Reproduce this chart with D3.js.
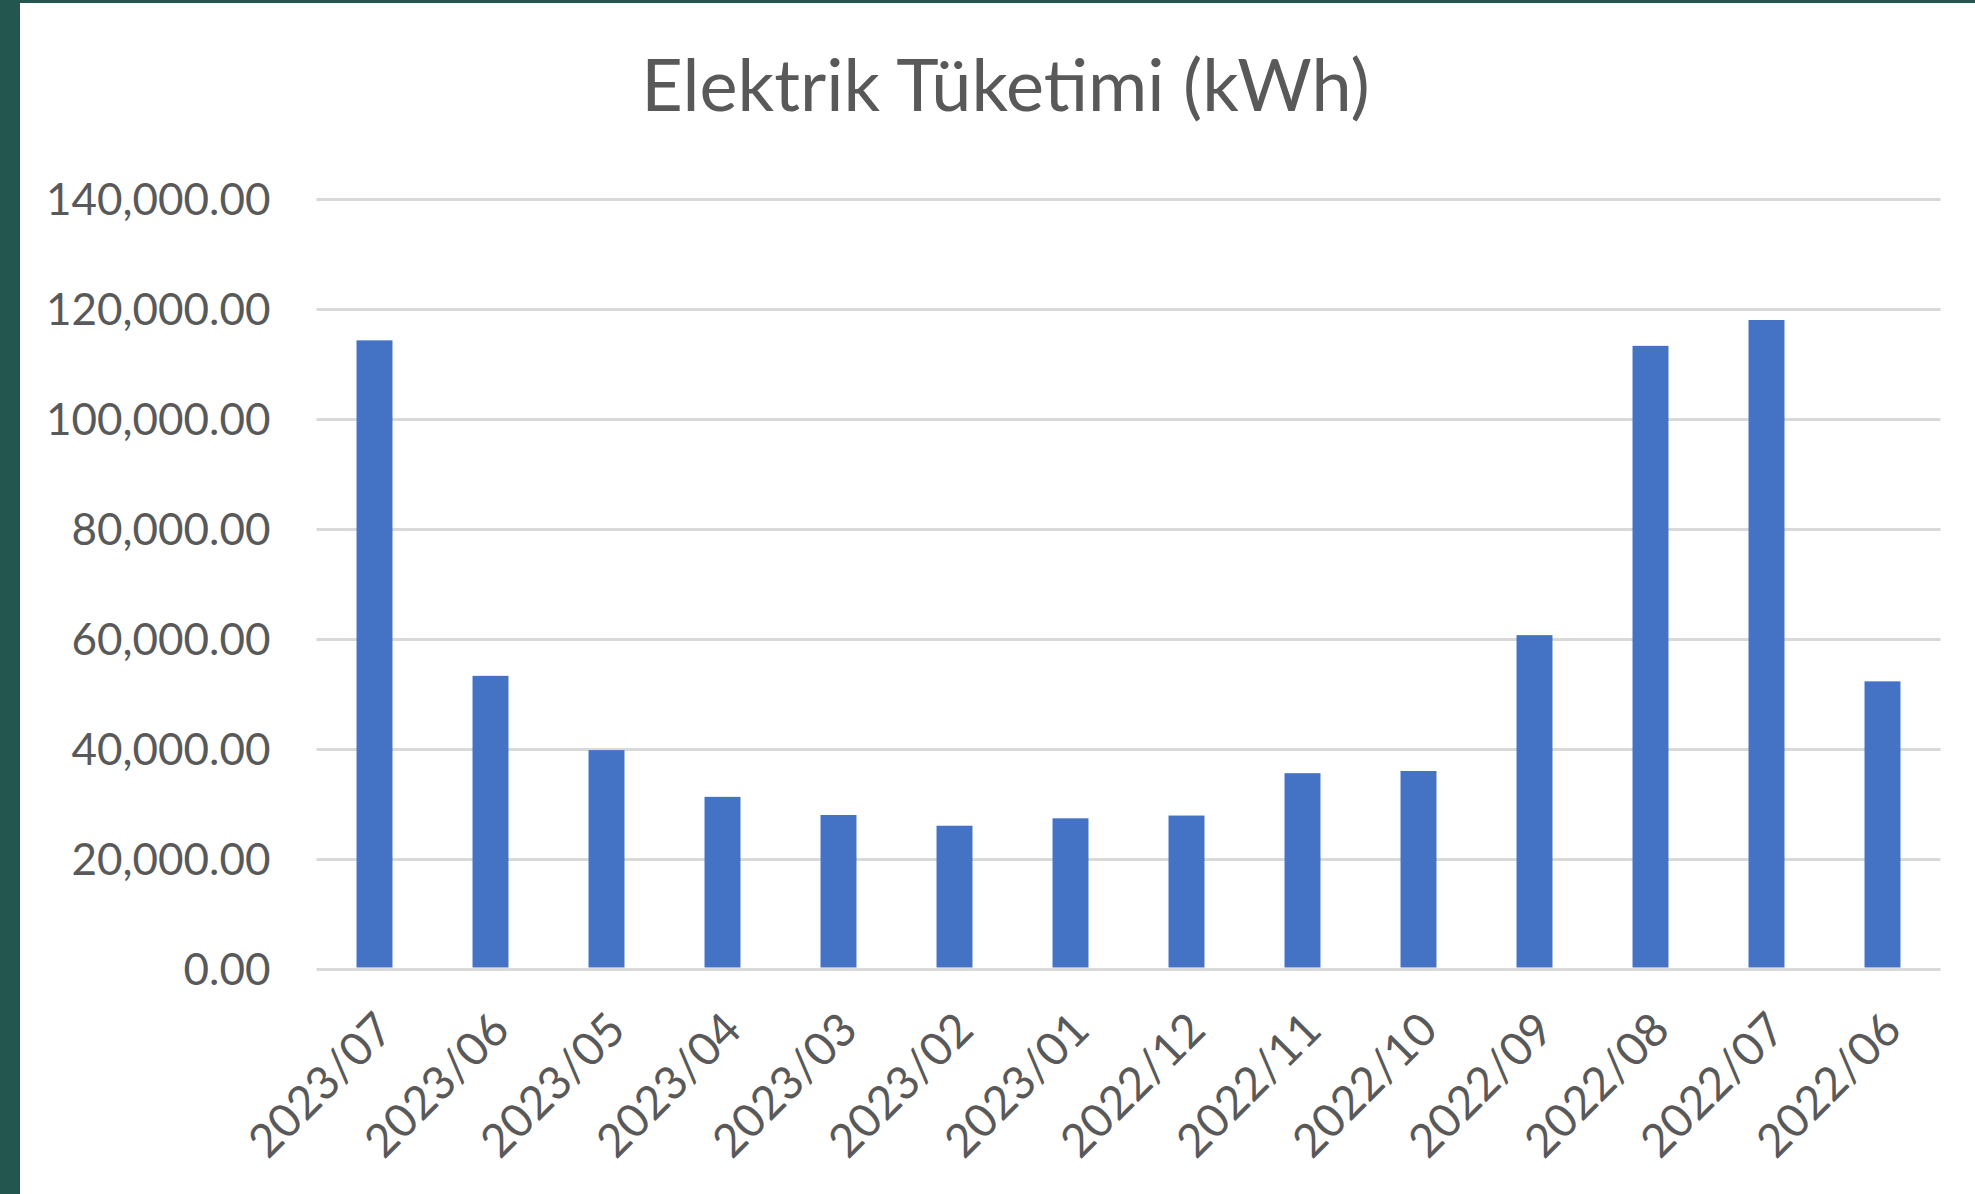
<!DOCTYPE html>
<html>
<head>
<meta charset="utf-8">
<script src="https://cdn.jsdelivr.net/npm/d3@7"></script>
<style>
    html, body { margin: 0; padding: 0; background: #ffffff; }
    svg { display: block; }
</style>
</head>
<body>
<div id="chart"></div>
<script>
// monthly readings, newest first (as in the sheet)
const months = ['2023/07', '2023/06', '2023/05', '2023/04', '2023/03', '2023/02', '2023/01',
                '2022/12', '2022/11', '2022/10', '2022/09', '2022/08', '2022/07', '2022/06']
const consumption = [114300, 53300, 39800, 31300, 28000, 26050, 27400,
                     27900, 35600, 36000, 60700, 113300, 118000, 52300]
const yTicks = [0, 20000, 40000, 60000, 80000, 100000, 120000, 140000]
const chartTitle = 'Elektrik Tüketimi (kWh)'

function drawConsumptionChart(d3, id) {
    var width = 1975
    var height = 1194
    var margin = {top: 199, right: 34.5, bottom: 225, left: 316.5}

    var scheme = {
        frame: '#23564f',
        bar: '#4472c4',
        grid: '#d9d9d9',
        text: '#595959'
    }

    var container = document.getElementById(id)

    var svg = d3.select(container)
        .append('svg')
        .attr('width', width)
        .attr('height', height)

    // dark frame on the left and top edge
    svg.append('rect')
        .attr('width', width)
        .attr('height', height)
        .attr('fill', scheme.frame)
    svg.append('rect')
        .attr('x', 20)
        .attr('y', 3)
        .attr('width', width - 20)
        .attr('height', height - 3)
        .attr('fill', '#ffffff')

    var x = d3.scaleBand()
        .domain(months)
        .range([margin.left, width - margin.right])
        .paddingInner(0.69)
        .paddingOuter(0.345)

    var y = d3.scaleLinear()
        .domain([0, 140000])
        .range([height - margin.bottom, margin.top])

    var fmt = d3.format(',.2f')

    // gridlines + y labels
    var yAxis = d3.axisLeft(y)
        .tickValues(yTicks)
        .tickFormat(fmt)
        .tickSize(-(width - margin.left - margin.right))
        .tickPadding(46)

    var gy = svg.append('g')
        .attr('transform', `translate(${margin.left},0)`)
        .call(yAxis)
    gy.select('.domain').remove()
    gy.selectAll('.tick line')
        .attr('stroke', scheme.grid)
        .attr('stroke-width', 3)
    gy.selectAll('.tick text')
        .attr('fill', scheme.text)
        .attr('font-family', 'Lato, sans-serif')
        .attr('font-size', 44)
        .attr('dy', '0.36em')

    var bars = svg.selectAll('rect.bar')
        .data(months)
        .enter()
        .append('rect')
        .attr('class', 'bar')
        .attr('x', d => x(d))
        .attr('width', x.bandwidth())
        .attr('y', (d, i) => y(consumption[i]))
        .attr('height', (d, i) => y(0) - y(consumption[i]) - 1.5)
        .attr('fill', scheme.bar)

    // x labels, rotated
    var xAxis = d3.axisBottom(x)
        .tickSize(0)
        .tickPadding(0)

    var gx = svg.append('g')
        .attr('transform', `translate(0,${y(0)})`)
        .call(xAxis)
    gx.select('.domain').remove()
    gx.selectAll('.tick text')
        .attr('fill', scheme.text)
        .attr('font-family', 'Lato, sans-serif')
        .attr('font-size', 46)
        .attr('text-anchor', 'end')
        .attr('dy', '0.35em')
        .attr('transform', 'translate(10,52) rotate(-45)')

    svg.append('text')
        .attr('x', 1005.5)
        .attr('y', 111)
        .attr('text-anchor', 'middle')
        .attr('fill', scheme.text)
        .attr('font-family', 'Lato, sans-serif')
        .attr('font-size', 72)
        .text(chartTitle)
}

drawConsumptionChart(d3, 'chart')
</script>
</body>
</html>
